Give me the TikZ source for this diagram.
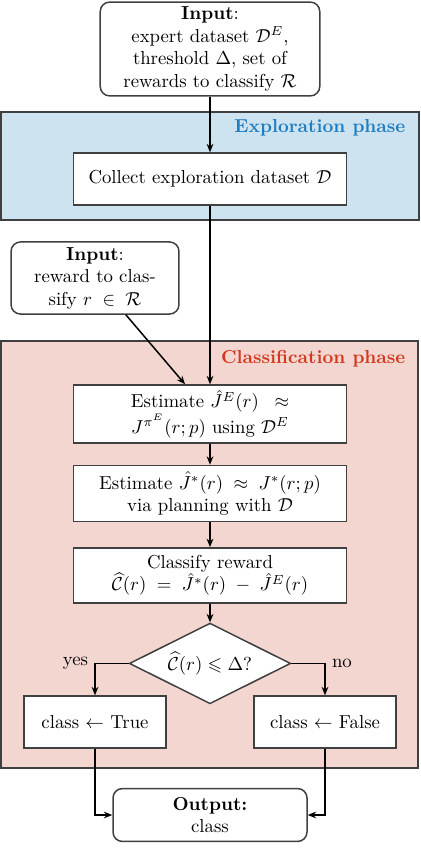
\documentclass[tikz,border=0pt]{standalone}
\usepackage{amsmath,amssymb}
\usepackage{xcolor}
\usepackage{tikz}
\usetikzlibrary{positioning, arrows.meta, shapes.geometric}
\definecolor{expblue}{HTML}{CDE3F0}
\definecolor{expbluetext}{HTML}{1F7EC1}
\definecolor{clspink}{HTML}{F3D6CF}
\definecolor{clsredtext}{HTML}{D1391E}
\definecolor{boxline}{HTML}{404040}

\begin{document}
\begin{tikzpicture}[x=0.533pt, y=-0.533pt,
    procbox/.style={draw=boxline, thick, fill=white, minimum width=145.5pt,
                    align=center, inner sep=2pt},
    inbox/.style={draw=boxline, thick, fill=white, rounded corners=5pt,
                  align=center, inner sep=2pt},
    phaselbl/.style={anchor=base east, font=\bfseries},
    flow/.style={-{Stealth[length=4.5pt, width=3.6pt]}, thick}]
  \useasboundingbox (0,0) rectangle (420,868);
  % phase backgrounds
  \draw[draw=boxline, fill=expblue, line width=0.6pt] (1,112) rectangle (419,220);
  \node[phaselbl, text=expbluetext] (explbl) at (412,132) {Exploration phase};
  \draw[draw=boxline, fill=clspink, line width=0.6pt] (1,341) rectangle (418,768);
  \node[phaselbl, text=clsredtext] (clslbl) at (412,363) {Classification phase};

  % inputs
  \node[inbox, minimum width=117pt, minimum height=50pt] (in1) at (210,49)
    {\textbf{Input}:\\ expert dataset $\mathcal{D}^E$,\\ threshold $\Delta$, set of\\
     rewards to classify $\mathcal{R}$};
  \node[procbox, minimum height=27.7pt] (collect) at (210,179)
    {Collect exploration dataset $\mathcal{D}$};
  \node[inbox, minimum width=89.5pt, minimum height=38.4pt] (in2) at (95,278)
    {\textbf{Input}:\\ reward to clas-\\ sify $r \;\in\; \mathcal{R}$};

  % classification chain
  \node[procbox, minimum height=30.9pt] (est1) at (210,414)
    {Estimate $\hat{J}^E(r) \;\;\approx$\\ $J^{\pi^E}(r;p)$ using $\mathcal{D}^E$};
  \node[procbox, minimum height=29.8pt, below=11.2pt of est1] (est2)
    {Estimate $\hat{J}^*(r) \;\approx\; J^*(r;p)$\\ via planning with $\mathcal{D}$};
  \node[procbox, minimum height=29.3pt, below=13.3pt of est2] (cls)
    {Classify reward\\ $\widehat{\mathcal{C}}(r) \;=\; \hat{J}^*(r) \;-\; \hat{J}^E(r)$};
  \node[draw=boxline, thick, fill=white, diamond, aspect=2, minimum width=86pt,
        minimum height=43pt, inner sep=0pt, below=10pt of cls] (dec)
    {$\widehat{\mathcal{C}}(r) \leqslant \Delta?$};
  \node[procbox, minimum width=75.7pt, minimum height=27.7pt] (yes) at (95,722)
    {class $\leftarrow$ True};
  \node[procbox, minimum width=75.7pt, minimum height=27.7pt] (no) at (325,722)
    {class $\leftarrow$ False};
  \node[inbox, minimum width=103.4pt, minimum height=28.2pt] (out) at (210,815)
    {\textbf{Output:}\\ class};

  % connectors
  \draw[flow] (in1) -- (collect);
  \draw[flow] (collect) -- (est1);
  \draw[flow] (in2.-50) -- (est1.130);
  \draw[flow] (est1) -- (est2);
  \draw[flow] (est2) -- (cls);
  \draw[flow] (cls) -- (dec);
  \draw[flow] (dec.west) -| node[pos=0.5, left] {yes} (yes);
  \draw[flow] (dec.east) -| node[pos=0.5, right] {no} (no);
  \draw[flow] (yes) |- (out);
  \draw[flow] (no) |- (out);
\end{tikzpicture}
\end{document}
